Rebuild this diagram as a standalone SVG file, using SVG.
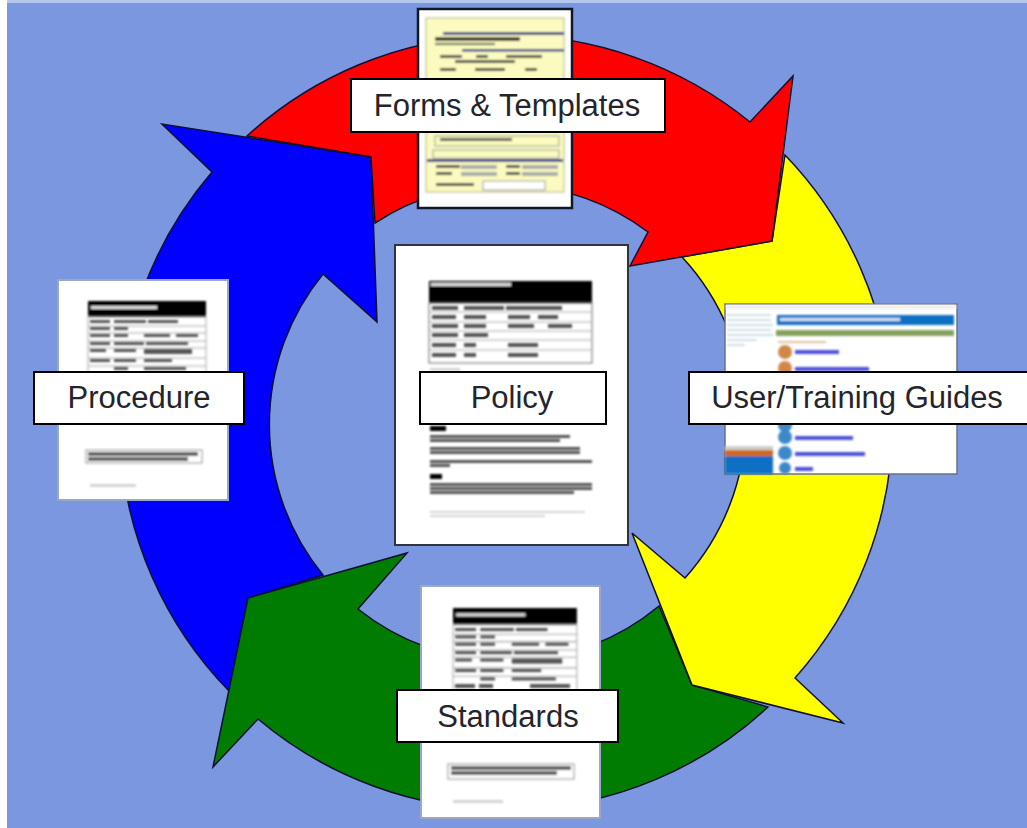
<svg xmlns="http://www.w3.org/2000/svg" width="1027" height="828" viewBox="0 0 1027 828">
<defs>
<style>
.arrow{stroke:#101030;stroke-width:1.5;stroke-linejoin:miter}
.page{fill:#fff;stroke:#9aa8c8;stroke-width:2}
.dark{stroke:#30343c}
.label{fill:#fff;stroke:#000;stroke-width:2}
.t{font-family:"Liberation Sans",Arial,sans-serif;font-size:31px;fill:#24242c;text-anchor:middle}
.b{fill:#000}
.g{fill:#555}
.l{fill:#d4d4d4}
.w{fill:#ddd}
.r{fill:none;stroke:#aaa;stroke-width:1}
</style>
<filter id="blur" x="-5%" y="-5%" width="110%" height="110%"><feGaussianBlur stdDeviation="0.9"/></filter>
<g id="table">
<rect class="b" x="0" y="0" width="118" height="16"/>
<rect class="w" x="3" y="5" width="66" height="3"/>
<rect class="r" x="0" y="16" width="118" height="71"/>
<path class="r" d="M0 25H118M0 32H118M0 40H118M0 47H118M0 57H118M0 65H118"/>
<rect class="g" x="2" y="19" width="20" height="3"/><rect class="g" x="26" y="19" width="32" height="3"/><rect class="g" x="60" y="19" width="30" height="3"/>
<rect class="g" x="2" y="26" width="20" height="3"/><rect class="g" x="26" y="26" width="14" height="3"/>
<rect class="g" x="2" y="33" width="20" height="3"/><rect class="g" x="26" y="33" width="14" height="3"/><rect class="g" x="56" y="33" width="26" height="3"/><rect class="g" x="88" y="33" width="22" height="3"/>
<rect class="g" x="2" y="41" width="20" height="3"/><rect class="g" x="26" y="41" width="30" height="3"/><rect class="g" x="58" y="41" width="42" height="3"/>
<rect class="g" x="2" y="48" width="16" height="3"/><rect class="g" x="26" y="48" width="22" height="3"/><rect class="g" x="56" y="48" width="48" height="5"/>
<rect class="g" x="2" y="58" width="20" height="3"/><rect class="g" x="26" y="58" width="22" height="3"/><rect class="g" x="56" y="58" width="28" height="3"/>
<rect class="g" x="26" y="66" width="14" height="3"/><rect class="g" x="56" y="66" width="42" height="3"/>
</g>
</defs>
<rect id="background" width="1027" height="828" fill="#7b97e0"/>
<rect id="edge-left" width="7" height="828" fill="#fff"/>
<rect id="edge-top" x="7" width="1020" height="3" fill="#b4c8ee"/>
<g id="connectors">
<path id="arrow-blue" class="arrow" fill="#0000ff" d="M323 575 A238 238 0 0 1 323 274 L377 322 L371 157 L162 124 L212 172 A385 385 0 0 0 229 691 L248 598 Z"/>
<path id="arrow-green" class="arrow" fill="#007c00" d="M659 606 A238 238 0 0 1 358 609 L407 553 L248 598 L213 767 L258 719 A385 385 0 0 0 768 707 L692 685 Z"/>
<path id="arrow-yellow" class="arrow" fill="#ffff00" d="M682 257 A238 238 0 0 1 685 578 L632 533 L692 685 L843 723 L795 678 A385 385 0 0 0 785 155 L772 241 Z"/>
<path id="arrow-red" class="arrow" fill="#ff0000" d="M375 223 A238 238 0 0 1 648 232 L630 266 L772 241 L793 76 L750 122 A385 385 0 0 0 247 136 L371 157 Z"/>
</g>
<g id="forms">
<rect x="418" y="9" width="154" height="199" fill="#fff" stroke="#101828" stroke-width="2.5"/>
<g filter="url(#blur)">
<rect x="426" y="18" width="138" height="174" fill="#fbfbc0" stroke="#b0b080" stroke-width="1"/>
<rect x="443" y="32" width="121" height="3" fill="#34348c"/>
<rect x="435" y="37" width="85" height="4" fill="#333"/><rect x="435" y="43" width="60" height="2" fill="#444"/>
<rect x="462" y="49" width="102" height="2.500" fill="#34348c"/>
<rect x="440" y="55" width="22" height="3" fill="#444"/><rect x="476" y="55" width="12" height="3" fill="#444"/><rect x="506" y="55" width="36" height="3" fill="#444"/>
<rect x="455" y="60" width="60" height="3" fill="#444"/>
<rect x="440" y="68" width="16" height="3" fill="#444"/><rect x="475" y="68" width="30" height="3" fill="#444"/><rect x="525" y="68" width="12" height="3" fill="#444"/>
<rect x="435" y="136" width="124" height="10" fill="none" stroke="#999"/>
<rect x="440" y="138" width="72" height="3" fill="#555"/>
<rect x="433" y="150" width="126" height="8" fill="none" stroke="#999"/>
<rect x="427" y="159" width="136" height="3" fill="#34348c"/>
<rect x="436" y="165" width="24" height="3" fill="#444"/><rect x="461" y="165" width="36" height="4" fill="#aaa"/><rect x="506" y="165" width="14" height="3" fill="#444"/><rect x="522" y="165" width="36" height="4" fill="#aaa"/>
<rect x="436" y="172" width="16" height="3" fill="#444"/><rect x="461" y="172" width="36" height="4" fill="#aaa"/><rect x="506" y="172" width="14" height="3" fill="#444"/><rect x="522" y="172" width="36" height="4" fill="#aaa"/>
<rect x="436" y="183" width="38" height="3" fill="#444"/>
<rect x="483" y="181" width="62" height="9" fill="#fff" stroke="#999"/>
</g>
<rect class="label" x="351" y="79" width="314" height="53"/>
<text class="t" x="507" y="116">Forms &amp; Templates</text>
</g>
<g id="policy">
<rect class="page dark" x="395" y="245" width="233" height="300"/>
<g filter="url(#blur)">
<rect class="b" x="429" y="281" width="163" height="22"/>
<rect class="w" x="431" y="283" width="80" height="3"/>
<rect x="429" y="303" width="163" height="60" fill="none" stroke="#666"/>
<path class="r" d="M429 312H592M429 322H592M429 331H592M429 340H592M429 350H592"/>
<rect class="g" x="432" y="306" width="26" height="4"/><rect class="g" x="464" y="306" width="40" height="4"/><rect class="g" x="506" y="306" width="56" height="4"/>
<rect class="g" x="432" y="315" width="24" height="4"/><rect class="g" x="464" y="315" width="22" height="4"/><rect class="g" x="508" y="315" width="22" height="4"/><rect class="g" x="538" y="315" width="20" height="4"/>
<rect class="g" x="432" y="324" width="26" height="4"/><rect class="g" x="464" y="324" width="22" height="4"/><rect class="g" x="508" y="324" width="26" height="4"/><rect class="g" x="548" y="324" width="24" height="4"/>
<rect class="g" x="432" y="333" width="26" height="4"/><rect class="g" x="464" y="333" width="24" height="4"/>
<rect class="g" x="432" y="343" width="24" height="4"/><rect class="g" x="464" y="343" width="12" height="4"/><rect class="g" x="508" y="343" width="30" height="4"/>
<rect class="g" x="432" y="353" width="24" height="4"/><rect class="g" x="464" y="353" width="12" height="4"/><rect class="g" x="508" y="353" width="30" height="4"/>
<rect class="l" x="430" y="368" width="30" height="3"/>
<rect class="b" x="430" y="426" width="16" height="5"/>
<rect class="g" x="430" y="435" width="140" height="3"/><rect class="g" x="430" y="439" width="130" height="3"/>
<rect class="g" x="430" y="447" width="150" height="3"/><rect class="g" x="430" y="451" width="150" height="3"/>
<rect class="g" x="430" y="460" width="162" height="3"/><rect class="g" x="430" y="464" width="20" height="3"/>
<rect class="b" x="430" y="474" width="12" height="5"/>
<rect class="g" x="430" y="483" width="162" height="3"/><rect class="g" x="430" y="487" width="162" height="3"/><rect class="g" x="430" y="491" width="144" height="3"/>
<rect class="l" x="430" y="511" width="155" height="2"/><rect class="l" x="430" y="515" width="115" height="2"/>
</g>
<rect class="label" x="420" y="372" width="186" height="52"/>
<text class="t" x="512" y="408">Policy</text>
</g>
<g id="user-guides">
<rect x="725" y="304" width="232" height="170" fill="#fff" stroke="#6a7288" stroke-width="1.500"/>
<g filter="url(#blur)">
<rect x="726" y="305" width="230" height="4" fill="#eee"/>
<rect x="727" y="314" width="44" height="2" fill="#cfe0e8"/><rect x="727" y="319" width="44" height="2" fill="#cfe0e8"/><rect x="727" y="324" width="46" height="2" fill="#cfe0e8"/><rect x="727" y="329" width="44" height="2" fill="#cfe0e8"/><rect x="727" y="334" width="46" height="2" fill="#cfe0e8"/><rect x="727" y="339" width="30" height="2" fill="#cfe0e8"/><rect x="727" y="344" width="18" height="2" fill="#cfe0e8"/>
<rect x="725" y="446" width="48" height="4" fill="#c8d0c8"/>
<rect x="725" y="450" width="48" height="6" fill="#d06818"/>
<rect x="725" y="456" width="48" height="18" fill="#0a70c4"/>
<rect x="777" y="315" width="177" height="10" fill="#0a70c4"/>
<rect x="780" y="318" width="120" height="3" fill="#cfe2f4"/>
<rect x="776" y="330" width="178" height="6" fill="#84a05c"/>
<rect x="778" y="341" width="48" height="2" fill="#e0c0a0"/>
<circle cx="785" cy="352" r="7" fill="#d08848"/><rect x="795" y="350" width="44" height="4" fill="#5050e0"/>
<circle cx="785" cy="368" r="7" fill="#d08848"/><rect x="795" y="367" width="74" height="4" fill="#5050e0"/>
<circle cx="785" cy="425" r="7" fill="#3c88c8"/>
<circle cx="785" cy="437" r="7" fill="#3c88c8"/><rect x="795" y="436" width="58" height="4" fill="#5050e0"/>
<circle cx="785" cy="453" r="7" fill="#3c88c8"/><rect x="795" y="452" width="70" height="4" fill="#5050e0"/>
<circle cx="785" cy="468" r="6" fill="#3c88c8"/><rect x="795" y="467" width="18" height="4" fill="#5050e0"/>
</g>
<rect class="label" x="689" y="372" width="339" height="52"/>
<text class="t" x="857" y="408">User/Training Guides</text>
</g>
<g id="procedure">
<rect class="page" x="58" y="280" width="170" height="220"/>
<use href="#table" x="88" y="301" filter="url(#blur)"/>
<g filter="url(#blur)">
<rect x="86" y="450" width="116" height="13" fill="#fff" stroke="#888"/>
<rect class="g" x="88" y="452" width="110" height="4"/><rect class="g" x="88" y="457" width="100" height="4"/>
<rect class="l" x="90" y="484" width="46" height="3"/>
</g>
<rect class="label" x="34" y="372" width="210" height="52"/>
<text class="t" x="139" y="408">Procedure</text>
</g>
<g id="standards">
<rect class="page" x="421" y="586" width="179" height="232"/>
<use href="#table" transform="translate(453 608) scale(1.05)" filter="url(#blur)"/>
<g filter="url(#blur)">
<rect x="448" y="764" width="126" height="15" fill="#fff" stroke="#888"/>
<rect class="g" x="451" y="766" width="120" height="4"/><rect class="g" x="451" y="771" width="106" height="4"/>
<rect class="l" x="453" y="800" width="50" height="3"/>
<rect class="g" x="455" y="684" width="20" height="4"/><rect class="g" x="479" y="684" width="14" height="4"/><rect class="g" x="530" y="684" width="40" height="4"/>
</g>
<rect class="label" x="397" y="690" width="221" height="52"/>
<text class="t" x="508" y="727">Standards</text>
</g>
</svg>
